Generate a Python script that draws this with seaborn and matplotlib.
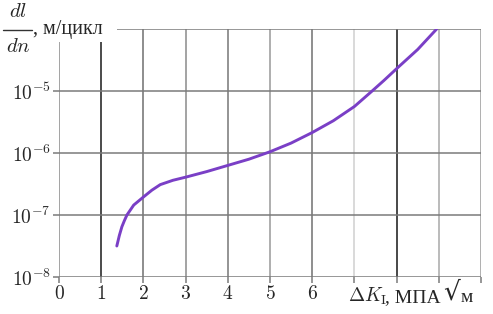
import numpy as np
import pandas as pd
import matplotlib
matplotlib.use("Agg")
import matplotlib.pyplot as plt
from matplotlib.patches import Rectangle
from matplotlib.lines import Line2D
import seaborn as sns

# Crack growth rate vs stress intensity range
delta_k = [1.37, 1.43, 1.49, 1.55, 1.61, 1.77, 2.0, 2.2, 2.4, 2.7, 3.0, 3.5,
           4.0, 4.5, 5.0, 5.5, 6.0, 6.5, 7.0, 7.42, 7.7, 8.0, 8.5, 8.95]
log_rate = [-7.50, -7.33, -7.19, -7.09, -7.00, -6.84, -6.71, -6.60, -6.51, -6.44,
            -6.39, -6.30, -6.20, -6.10, -5.98, -5.84, -5.67, -5.48, -5.25, -5.00,
            -4.83, -4.64, -4.33, -4.00]
rate = [10 ** v for v in log_rate]

x_ticks = [0, 1, 2, 3, 4, 5, 6, 7, 8, 9, 10]
x_tick_labels = ["0", "1", "2", "3", "4", "5", "6", "", "", "", ""]
y_ticks = [1e-8, 1e-7, 1e-6, 1e-5, 1e-4]
y_tick_labels = [r"$10^{-8}$", r"$10^{-7}$", r"$10^{-6}$", r"$10^{-5}$", ""]

# grid line shades differ in the scan
vline_colors = ["#8a8a8a", "#1a1a1a", "#6f6f6f", "#8a8a8a", "#777777", "#999999",
                "#707070", "#cfcfcf", "#161616", "#a8a8a8", "#9a9a9a"]

df = pd.DataFrame({"dk": delta_k, "rate": rate})

sns.set_style("white")
plt.rcParams["mathtext.fontset"] = "cm"
plt.rcParams["font.family"] = ["Liberation Serif", "DejaVu Serif"]

W, H = 493, 314
fig = plt.figure(figsize=(W / 100, H / 100), dpi=100)
ax = fig.add_axes([59 / W, 1 - 277 / H, 422 / W, 248 / H])


def fx(px):
    return px / W


def fy(py):
    return 1 - py / H


ax.set_yscale("log")
ax.set_xlim(0, 10)
ax.set_ylim(1e-8, 1e-4)

for xv, c in zip(x_ticks, vline_colors):
    ax.axvline(xv, color=c, lw=1.1, zorder=1)
for yv in y_ticks:
    ax.axhline(yv, color="#7a7a7a", lw=1.1, zorder=1)

sns.lineplot(data=df, x="dk", y="rate", ax=ax, color="#7a3fc6", lw=2.1,
             sort=False, zorder=3)

for s in ax.spines.values():
    s.set_visible(False)

ax.set_xticks(x_ticks)
ax.set_xticklabels([f"${t}$" if t else "" for t in x_tick_labels])
ax.set_yticks(y_ticks)
ax.set_yticklabels(y_tick_labels)
ax.yaxis.set_minor_locator(matplotlib.ticker.NullLocator())
ax.tick_params(axis="both", which="major", length=4, width=1.1, color="#7a7a7a",
               labelsize=14, pad=2, bottom=True, left=True)
ax.set_xlabel("")
ax.set_ylabel("")

# white patch behind the y-axis label, covering the top of the grid
fig.add_artist(Rectangle((0, fy(42)), fx(117), 42 / H,
                         transform=fig.transFigure, facecolor="white",
                         edgecolor="none", zorder=5))
fig.text(fx(18), fy(17), r"$dl$", fontsize=15, ha="center", va="baseline", zorder=6)
fig.add_artist(Line2D([fx(3), fx(32)], [fy(30), fy(30)], color="#333333",
                      lw=1.0, transform=fig.transFigure, zorder=6))
fig.text(fx(18), fy(52), r"$dn$", fontsize=15, ha="center", va="baseline", zorder=6)
fig.text(fx(33), fy(34), ", м/цикл", fontsize=14.5,
         ha="left", va="baseline", zorder=6)

# x-axis label sits in place of the last tick labels
fig.text(fx(348), fy(302), r"$\Delta K_{\rm I}$", fontsize=14,
         ha="left", va="baseline")
fig.text(fx(385), fy(302), ", МПА", fontsize=14, ha="left", va="baseline")
fig.text(fx(443), fy(300), "√", fontsize=19, family="DejaVu Sans",
         ha="left", va="baseline")
fig.text(fx(461), fy(302), "м", fontsize=14, ha="left", va="baseline")

fig.savefig("out.png", dpi=100)
